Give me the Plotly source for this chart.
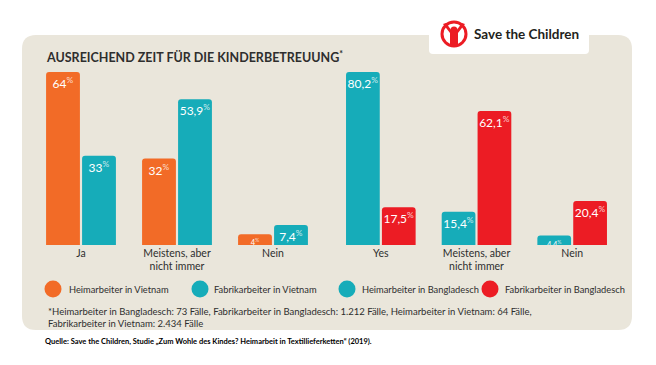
import plotly.graph_objects as go

# ---- data ----
cats_vn = ["Ja", "Meistens, aber<br>nicht immer", "Nein"]
cats_bd = ["Yes", "Meistens, aber<br>nicht immer", "Nein"]
heim_vn = [64, 32, 4]
fabrik_vn = [33, 53.9, 7.4]
heim_bd = [80.2, 15.4, 4.4]
fabrik_bd = [17.5, 62.1, 20.4]
series_names = ["Heimarbeiter in Vietnam", "Fabrikarbeiter in Vietnam",
                "Heimarbeiter in Bangladesch", "Fabrikarbeiter in Bangladesch"]

ORANGE = "#F26B27"
TEAL = "#16ACB9"
RED = "#EC1C24"
BEIGE = "#EAE6DB"
DARK = "#2E2E2E"
FONT = "Lato"

W, H = 656, 365


def px(x, y):
    return x / W, 1 - y / H


def fmt(v):
    s = f"{v:g}".replace(".", ",")
    return s + "<sup><span style='color:rgba(255,255,255,0.75)'>%</span></sup>"


def sizes(vals):
    return [12 if v >= 7 else 7.5 for v in vals]


fig = go.Figure()


def add_bar(cats, vals, name, color, xa, ya):
    fig.add_trace(go.Bar(
        x=cats, y=vals, name=name, marker=dict(color=color, line=dict(width=0)),
        text=[fmt(v) for v in vals], textposition="inside", insidetextanchor="end",
        textangle=0, constraintext="none",
        textfont=dict(color="white", family=FONT, size=sizes(vals)),
        xaxis=xa, yaxis=ya, showlegend=False, hoverinfo="skip"))


add_bar(cats_vn, heim_vn, series_names[0], ORANGE, "x", "y")
add_bar(cats_vn, fabrik_vn, series_names[1], TEAL, "x", "y")
add_bar(cats_bd, heim_bd, series_names[2], TEAL, "x2", "y2")
add_bar(cats_bd, fabrik_bd, series_names[3], RED, "x2", "y2")

ydom = [1 - 245 / H, 1 - 72 / H]
axis_common = dict(showgrid=False, zeroline=False, showline=False, ticks="",
                   tickfont=dict(family=FONT, size=10.5, color=DARK), fixedrange=True)

shapes = []
# panel background (rounded rect)
x0, y0, x1, y1, r = 22, 35, 632, 330, 14
def P(x, y):
    a, b = px(x, y)
    return f"{a:.5f},{b:.5f}"
path = (f"M {P(x0 + r, y0)} L {P(x1 - r, y0)} Q {P(x1, y0)} {P(x1, y0 + r)} "
        f"L {P(x1, y1 - r)} Q {P(x1, y1)} {P(x1 - r, y1)} L {P(x0 + r, y1)} "
        f"Q {P(x0, y1)} {P(x0, y1 - r)} L {P(x0, y0 + r)} Q {P(x0, y0)} {P(x0 + r, y0)} Z")
shapes.append(dict(type="path", xref="paper", yref="paper", path=path,
                   fillcolor=BEIGE, line=dict(width=0), layer="below"))
# white logo box
bx0, by0, bx1, by1, br = 429, 28, 589, 54, 4
path2 = (f"M {P(bx0, by0)} L {P(bx1, by0)} L {P(bx1, by1 - br)} Q {P(bx1, by1)} {P(bx1 - br, by1)} "
         f"L {P(bx0 + br, by1)} Q {P(bx0, by1)} {P(bx0, by1 - br)} Z")
shapes.append(dict(type="path", xref="paper", yref="paper", path=path2,
                   fillcolor="white", line=dict(width=0), layer="below"))

# logo glyph
cx, cy, rr = 454, 34, 12
def circ(xc, yc, rad, **kw):
    a0, b0 = px(xc - rad, yc - rad)
    a1, b1 = px(xc + rad, yc + rad)
    return dict(type="circle", xref="paper", yref="paper", x0=a0, y0=b1, x1=a1, y1=b0, **kw)
shapes.append(circ(cx, cy, rr, line=dict(color=RED, width=3)))
shapes.append(circ(cx, cy - 4, 3.5, fillcolor=RED, line=dict(width=0)))
body = (f"M {P(cx - 11, cy - 10)} L {P(cx - 4, cy - 1)} L {P(cx - 4, cy + 12)} "
        f"L {P(cx + 4, cy + 12)} L {P(cx + 4, cy - 1)} L {P(cx + 11, cy - 10)} "
        f"L {P(cx + 8, cy - 11)} L {P(cx + 2, cy - 3)} L {P(cx - 2, cy - 3)} L {P(cx - 8, cy - 11)} Z")
shapes.append(dict(type="path", xref="paper", yref="paper", path=body,
                   fillcolor=RED, line=dict(width=0)))

# legend circles
legend_items = [(53, 67, ORANGE), (200, 212, TEAL), (347, 360, TEAL), (490, 503, RED)]
annotations = []
for (mx, tx, col), name in zip(legend_items, series_names):
    shapes.append(circ(mx, 289, 8.5, fillcolor=col, line=dict(width=0)))
    a, b = px(tx, 289)
    annotations.append(dict(x=a, y=b, xref="paper", yref="paper", text=name,
                            showarrow=False, xanchor="left", yanchor="middle",
                            font=dict(family=FONT, size=9.3, color=DARK)))

# title
a, b = px(44, 56)
annotations.append(dict(x=a, y=b, xref="paper", yref="paper",
                        text="<b>AUSREICHEND ZEIT FÜR DIE KINDERBETREUUNG<sup>*</sup></b>",
                        showarrow=False, xanchor="left", yanchor="middle",
                        font=dict(family=FONT, size=12.5, color=DARK)))
# logo text
a, b = px(472, 34)
annotations.append(dict(x=a, y=b, xref="paper", yref="paper", text="<b>Save the Children</b>",
                        showarrow=False, xanchor="left", yanchor="middle",
                        font=dict(family=FONT, size=13.5, color="#231F20")))
# footnote
a, b = px(46, 317)
annotations.append(dict(x=a, y=b, xref="paper", yref="paper",
                        text="*Heimarbeiter in Bangladesch: 73 Fälle, Fabrikarbeiter in Bangladesch: 1.212 Fälle, "
                             "Heimarbeiter in Vietnam: 64 Fälle,<br>Fabrikarbeiter in Vietnam: 2.434 Fälle",
                        showarrow=False, xanchor="left", yanchor="middle", align="left",
                        font=dict(family=FONT, size=9.5, color=DARK)))
# source
a, b = px(43, 341)
annotations.append(dict(x=a, y=b, xref="paper", yref="paper",
                        text="<b>Quelle: Save the Children, Studie „Zum Wohle des Kindes? Heimarbeit in "
                             "Textillieferketten“ (2019).</b>",
                        showarrow=False, xanchor="left", yanchor="middle",
                        font=dict(family=FONT, size=7.5, color="black")))

fig.update_layout(
    width=W, height=H, margin=dict(l=0, r=0, t=0, b=0),
    paper_bgcolor="white", plot_bgcolor="rgba(0,0,0,0)",
    barmode="group", bargap=0.25, bargroupgap=0.06, barcornerradius=3,
    font=dict(family=FONT, color=DARK),
    xaxis=dict(domain=[33 / W, 321 / W], anchor="y", **axis_common),
    yaxis=dict(domain=ydom, range=[0, max(heim_vn + fabrik_vn)], visible=False, fixedrange=True),
    xaxis2=dict(domain=[333 / W, 620 / W], anchor="y2", **axis_common),
    yaxis2=dict(domain=ydom, range=[0, max(heim_bd + fabrik_bd)], visible=False, fixedrange=True),
    shapes=shapes, annotations=annotations, showlegend=False,
)

fig.write_html("out.html", config={"displayModeBar": False},
               post_script="document.body.style.margin='0';")
